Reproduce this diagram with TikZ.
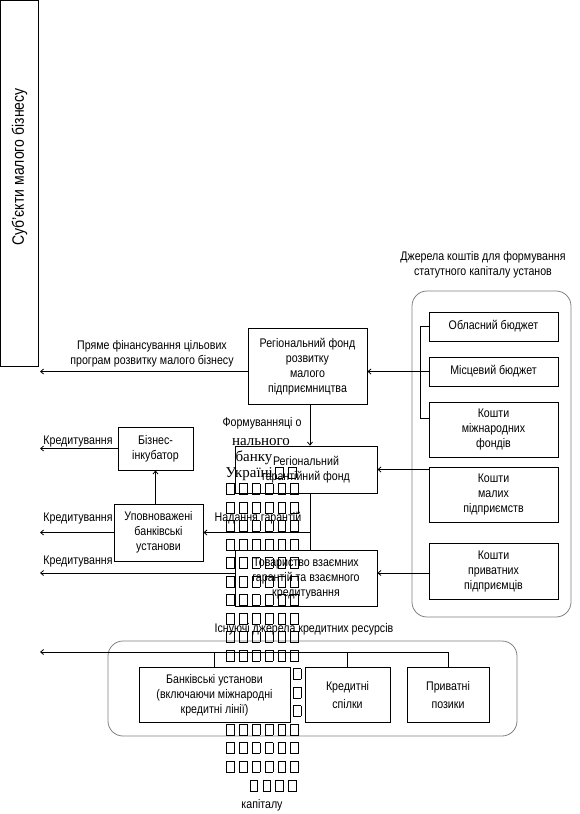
\documentclass[tikz,border=0pt]{standalone}
\usepackage{fontspec}
\setmainfont[FakeStretch=0.85]{Liberation Sans}
\newfontfamily\garbserif{Liberation Serif}
\usetikzlibrary{arrows.meta,calc}
\newcommand\fs{\fontsize{12.5pt}{15pt}\selectfont}
\newcommand\gs{\fontsize{15pt}{16pt}\selectfont\garbserif}
\newcommand\tf{\hspace{2.2pt}{\fboxsep0pt\fboxrule0.7pt\fbox{\rule{0pt}{10pt}\hspace{7pt}}}\hspace{2.2pt}}
\begin{document}
\begin{tikzpicture}[x=1pt,y=-1pt,
  box/.style={draw,line width=0.8pt,align=center,inner sep=1pt,font=\fs},
  lbl/.style={align=center,inner sep=0pt,font=\fs},
  ln/.style={line width=0.8pt},
  arr/.style={line width=0.8pt,-{Straight Barb[length=3pt,width=5pt]}},
  frm/.style={draw=black!50,line width=0.8pt,rounded corners=15pt,inner sep=0pt},
  tofu/.style={inner sep=0pt,font=\fs}]
\useasboundingbox (0,0) rectangle (580,814);

% left box
\node[draw,line width=0.8pt,minimum width=38pt,minimum height=366pt,inner sep=0pt] (subj) at (19.5,183) {};
\node[rotate=90,inner sep=0pt,font=\fontsize{16.5pt}{18pt}\selectfont] (subjt) at (19.5,167) {Суб’єкти малого бізнесу};

% right frame with sources
\node[lbl] (srct) at (483,265) {Джерела коштів для формування\\статутного капіталу установ};
\node[frm,minimum width=159pt,minimum height=326pt] (rfr) at (491.5,454) {};
\node[box,minimum width=129pt,minimum height=29pt] (obl) at (493.5,326.5) {Обласний бюджет};
\node[box,minimum width=129pt,minimum height=29pt] (mis) at (493.5,371.5) {Місцевий бюджет};
\node[box,minimum width=129pt,minimum height=55pt] (mizh) at (493.5,429.5) {Кошти\\міжнародних\\фондів};
\node[box,minimum width=129pt,minimum height=55pt] (maly) at (493.5,494.5) {Кошти\\малих\\підприємств};
\node[box,minimum width=129pt,minimum height=56pt] (pryv) at (493.5,571) {Кошти\\приватних\\підприємців};

% central boxes
\node[box,minimum width=119pt,minimum height=76pt] (fund) at (307.5,366.5) {Регіональний фонд\\розвитку\\малого\\підприємництва};
\node[box,minimum width=142pt,minimum height=47pt] (gar) at (306,469.5) {Регіональний\\гарантійний фонд};
\node[box,minimum width=142pt,minimum height=56pt] (tov) at (306,578) {Товариство взаємних\\гарантій та взаємного\\кредитування};
\node[box,minimum width=75pt,minimum height=43pt] (inc) at (155.5,448.5) {Бізнес-\\інкубатор};
\node[box,minimum width=89pt,minimum height=57pt] (upov) at (158.5,532.5) {Уповноважені\\банківські\\установи};

% bottom frame
\node[lbl] (exist) at (304,629) {Існуючі джерела кредитних ресурсів};
\node[frm,minimum width=409pt,minimum height=95pt] (bfr) at (312.5,688.5) {};
\node[box,minimum width=151pt,minimum height=55pt] (bank) at (214.5,695) {Банківські установи\\(включаючи міжнародні\\кредитні лінії)};
\node[box,minimum width=85pt,minimum height=55pt] (kred) at (347.5,695) {Кредитні\\[3pt]спілки};
\node[box,minimum width=82pt,minimum height=55pt] (privz) at (448,695) {Приватні\\[3pt]позики};

% labels
\node[lbl] (pfin) at (152,354) {Пряме фінансування цільових\\програм розвитку малого бізнесу};
\node[lbl] (kr1) at (78,441) {Кредитування};
\node[lbl] (kr2) at (78,518) {Кредитування};
\node[lbl] (kr3) at (78,561) {Кредитування};
\node[lbl] (nad) at (258,518) {Надання гарантій};

% free ends
\coordinate (e1) at (40,0);
\coordinate (vx) at (310,0);
\coordinate (brT) at (420,0);
\coordinate (brB) at (420,418);
\coordinate (bl) at (40,652);
\coordinate (tovw) at ([yshift=5pt]tov.west);
\coordinate (tove) at ([yshift=5pt]tov.east);

% connectors
\draw[ln] (obl.west) -- (obl.west -| brT) -- (brB) -- (brB -| mizh.west);
\draw[arr] (mis.west) -- (mis.west -| fund.east);
\draw[arr] (fund.west |- mis.west) -- (e1 |- mis.west);
\draw[arr] (vx |- fund.south) -- (vx |- gar.north);
\draw[arr] (gar.east -| maly.west) -- (gar.east);
\draw[arr] (tove -| pryv.west) -- (tove);
\draw[ln] (vx |- gar.south) -- (vx |- tov.north);
\draw[arr] (vx |- upov.east) -- (upov.east);
\draw[arr] (upov.north -| inc.south) -- (inc.south);
\draw[arr] (inc.west) -- (e1 |- inc.west);
\draw[arr] (upov.west) -- (e1 |- upov.west);
\draw[arr] (tovw) -- (e1 |- tovw);
\draw[arr] (privz.north) -- (privz.north |- bl) -- (bl);
\draw[ln] (bank.north) -- (bank.north |- bl);
\draw[ln] (kred.north) -- (kred.north |- bl);

% garbled text column
\node[lbl] (g0) at (262,423) {Формуванняці о};
\node[inner sep=0pt,font=\gs] (g1) at (261,442) {нального};
\node[inner sep=0pt,font=\gs] (g2) at (254,458) {банку};
\node[inner sep=0pt,font=\gs] (g3) at (261,474) {Україні\tf\tf};
\foreach \k in {0,...,9,13,14,15}{
  \node[tofu] (r\k) at (261.5,489+18.5*\k) {\tf\tf\tf\tf\tf\tf};
}
\foreach \k in {10,11,12}{
  \node[tofu] (r\k) at (296,489+18.5*\k) {\tf};
}
\node[tofu] (r16) at (272,786) {\tf\tf\tf\tf};
\node[lbl] (g4) at (262,805) {капіталу};
\end{tikzpicture}
\end{document}
